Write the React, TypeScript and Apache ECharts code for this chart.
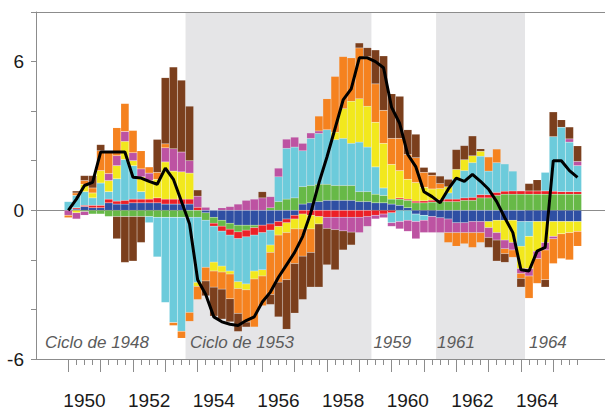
import { useEffect, useRef } from "react";
import * as echarts from "echarts";

// ---------- data (quarterly, first quarter = 1950.0, step = 1/4 year) ----------
const FIRST_QUARTER = 1950;
const QUARTERS_PER_YEAR = 4;

const blue = [
  0, 0.05, 0.15, 0.1, 0.1, 0.3, 0.25, 0.25,
  0.3, 0.3, 0.3, 0.3, 0.25, 0.25, 0.25, 0.25,
  0, -0.1, -0.28, -0.4, -0.52, -0.6, -0.6, -0.6,
  -0.6, -0.55, -0.45, -0.35, -0.2, 0.25, 0.3, 0.35,
  0.4, 0.4, 0.4, 0.4, 0.35, 0.35, 0.3, 0.3,
  0.25, 0.2, 0.1, -0.15, -0.2, -0.25, -0.3, -0.35,
  -0.5, -0.5, -0.45, -0.45, -0.45, -0.4, -0.4, -0.4,
  -0.45, -0.45, -0.45, -0.45, -0.45, -0.45, -0.45, -0.45,
];
const green = [
  0, 0, -0.05, -0.15, -0.15, -0.25, -0.25, -0.25,
  -0.25, -0.25, -0.25, -0.28, -0.28, -0.28, -0.28, -0.28,
  -0.28, -0.3, -0.24, -0.24, -0.24, -0.27, -0.2, -0.1,
  0, 0.1, 0.35, 0.45, 0.5, 0.7, 0.7, 0.7,
  0.65, 0.6, 0.6, 0.6, 0.4, 0.4, 0.35, 0.3,
  0.2, 0.25, 0.3, 0.3, 0.3, 0.33, 0.35, 0.35,
  0.35, 0.4, 0.4, 0.5, 0.5, 0.6, 0.65, 0.65,
  0.65, 0.65, 0.65, 0.65, 0.65, 0.65, 0.65, 0.65,
];
const red = [
  0, 0.05, 0.05, 0.1, 0.1, 0.15, 0.12, 0.15,
  0.15, 0.15, 0.15, 0.2, 0.2, 0.2, 0.2, 0.2,
  0.12, 0, -0.12, -0.2, -0.24, -0.27, -0.27, -0.3,
  -0.3, -0.25, -0.2, -0.15, -0.15, -0.15, -0.2, -0.25,
  -0.28, -0.28, -0.28, -0.28, -0.28, -0.25, -0.2, -0.15,
  -0.1, 0.05, 0.05, 0.07, 0.08, 0.08, 0.08, 0.1,
  0.1, 0.1, 0.12, 0.13, 0.13, 0.12, 0.12, 0.13,
  0.13, 0.13, 0.13, 0.13, 0.12, 0.1, 0.1, 0.1,
];
const cyan = [
  0.35, 0.5, 0.55, 0.3, 0.9, 0.3, 0.9, 1.65,
  1.35, 0.3, -0.25, -1.6, -3.44, -4.25, -4.6, -3.84,
  -2.63, -1.9, -1.45, -1.41, -1.45, -1.74, -1.9, -1.45,
  -1.5, -0.6, 1.0, 2.05, 2.05, 1.45, 1.9, 2.05,
  2.2, 1.85, 1.9, 1.7, 2.0, 1.8, 1.1, 0.3,
  -0.4, -0.45, -0.4, -0.3, -0.2, 0, 0, 0.25,
  0.8, 1.1, 1.4, 1.55, 0.95, 1.2, 1.1, 0.8,
  -1.0, -0.6, 0, 0.75, 2.2, 2.6, 2.0, 1.05,
];
const yellow = [
  0, -0.1, 0.3, 0.2, 0.5, 0.45, 0.53, 0.73,
  0.2, 0.6, 0.75, 0.75, 1.5, 1.13, 1.1, 1.05,
  -0.16, 0, -0.36, -0.24, -0.12, -0.28, -0.24, -0.32,
  -0.25, -0.3, -0.35, -0.4, -0.4, -0.6, -0.55, -0.3,
  0, 0.3, 1.2, 1.7, 1.75, 1.65, 1.8, 1.8,
  1.4, 1.1, 0.8, 0.75, 0.55, 0.45, 0.45, 0.25,
  0.4, 0.44, 0.28, 0.2, -0.25, -0.5, -0.8, -0.9,
  -0.9, -1.3, -1.2, -0.85, -0.6, -0.5, -0.45, -0.4,
];
const magenta = [
  -0.2, -0.25, -0.15, 0, 0, 0.28, 0.4, 0.4,
  0.32, 0.32, 0.3, 0, 0.57, 0.9, 0.8, 0.5,
  0.45, 0.12, 0, 0.1, 0.15, 0.25, 0.4, 0.45,
  0.5, 0.45, 0.35, 0.37, 0.4, 0.3, 0.22, 0.1,
  -0.45, -0.5, -0.55, -0.6, -0.62, -0.4, -0.15, -0.15,
  -0.15, -0.3, -0.45, -0.7, -0.5, -0.65, -0.6, -0.55,
  -0.4, -0.4, -0.45, -0.45, -0.4, -0.3, -0.35, -0.3,
  -0.2, -0.3, -0.3, -0.3, -0.1, 0, 0.13, 0.17,
];
const orange = [
  -0.1, 0.1, 0.15, 0.2, 0.8, 0.85, 1.13, 1.13,
  0.9, 0.73, 0.25, 0.28, 0.16, -0.12, -0.28, -0.36,
  -0.53, -0.55, -0.65, -0.69, -1.0, -1.0, -1.3, -1.94,
  -1.2, -1.7, -1.9, -1.9, -1.4, -1.1, -0.95, 0.6,
  1.25, 2.25, 2.1, 1.75, 2.05, 2.0, 1.55, 1.33,
  1.05, 1.3, 1.0, 1.0, 0.6, 0.55, 0.2, -0.4,
  -0.55, -0.45, -0.6, -0.4, 0.57, 0.55, -0.2, -0.3,
  -0.2, -0.9, -1.0, -1.2, -1.0, -1.0, -1.1, -0.6,
];
const brown = [
  0, 0.08, 0.2, 0.5, 0.25, 0, -0.9, -1.85,
  -1.8, -1.05, 0, 1.33, 2.67, 3.3, 2.9, 2.2,
  0.25, -0.6, -1.17, -1.21, -0.93, -0.73, -0.2, 0,
  0.25, -0.4, -1.4, -2.0, -2.0, -1.75, -1.4, -2.55,
  -1.47, -1.62, -0.77, -0.52, 0.2, 0.36, 1.37, 2.2,
  1.8, 1.7, 1.0, 0.95, 0.2, 0.12, 0.3, 0.3,
  0.8, 0.57, 0.8, 0.1, -0.4, -0.85, -0.35, 0,
  -0.35, 0.3, 0.45, -0.3, 1.0, 0.3, 0.48, 0.63,
];
const indicator = [
  0, 0.45, 1.0, 1.13, 2.35, 2.35, 2.35, 2.35,
  1.33, 1.3, 1.17, 1.05, 1.7, 1.25, 0.35, -0.55,
  -2.8, -3.4, -4.3, -4.5, -4.6, -4.65, -4.45, -4.3,
  -3.7, -3.3, -2.7, -2.2, -1.7, -1.05, -0.1, 1.1,
  2.15, 3.3, 4.45, 4.9, 6.15, 6.15, 6.0, 5.75,
  4.15, 3.5, 2.25, 1.75, 0.75, 0.55, 0.3, 0.85,
  1.3, 1.17, 1.45, 1.17, 0.85, 0.35, -0.3, -0.9,
  -2.4, -2.45, -1.65, -1.5, 2.0, 2.0, 1.6, 1.33,
];

const majorTickYears = [1950, 1951, 1952, 1953, 1954, 1955, 1956, 1957, 1958, 1959, 1960, 1961, 1962, 1963, 1964, 1965];
const yearLabels = [1950, 1952, 1954, 1956, 1958, 1960, 1962, 1964];
const yLabelValues = [-6, 0, 6];

const cycleNames = ["Ciclo de 1948", "Ciclo de 1953", "1959", "1961", "1964"];
const cycleStarts = [1949, 1953.625, 1959.375, 1961.375, 1964.125];
const cycleEnds = [1953.625, 1959.375, 1961.375, 1964.125, 1966.6];
const cycleShaded = [false, true, false, true, false];

// ---------- styling ----------
const X_MIN = 1949;
const X_MAX = 1966.6;
const FONT = "'Liberation Sans', Arial, sans-serif";
const AXIS_GRAY = "#8c8c8c";
const labelShiftX = [9, 4.5, 2, 1, 4];

const stackDefs = [
  { name: "azul", values: blue, color: "#2f4fa3" },
  { name: "verde", values: green, color: "#67b947" },
  { name: "rojo", values: red, color: "#ec2027" },
  { name: "celeste", values: cyan, color: "#6ccbdb" },
  { name: "amarillo", values: yellow, color: "#f2e81d" },
  { name: "morado", values: magenta, color: "#bd53a2" },
  { name: "naranja", values: orange, color: "#f5821f" },
  { name: "marron", values: brown, color: "#7b3f1d" },
];

export default function App() {
  const ref = useRef<HTMLDivElement>(null);

  useEffect(() => {
    if (!ref.current) return;
    const chart = echarts.init(ref.current, undefined, { renderer: "svg" });
    const quarters = blue.map((_, i) => FIRST_QUARTER + i / QUARTERS_PER_YEAR);
    const quarterTicks = quarters.slice();

    const barSeries = stackDefs.map((s) => ({
      type: "bar",
      name: s.name,
      stack: "total",
      barWidth: 8.1,
      encode: { x: 1, y: 0 },
      data: s.values.map((v, i) => [v, quarters[i]]),
      itemStyle: { color: s.color, borderColor: "rgba(255,255,255,0.18)", borderWidth: 0.4 },
      silent: true,
      z: 2,
    }));

    const areaData = cycleNames.map((name, i) => [
      {
        name,
        xAxis: cycleStarts[i],
        itemStyle: { color: cycleShaded[i] ? "#e5e5e7" : "rgba(0,0,0,0)" },
        label: { offset: [labelShiftX[i], -8] },
      },
      { xAxis: cycleEnds[i] },
    ]);

    const splitColors = ["rgba(0,0,0,0)", "rgba(0,0,0,0)", "rgba(0,0,0,0)", AXIS_GRAY, "rgba(0,0,0,0)", "rgba(0,0,0,0)", "rgba(0,0,0,0)", "rgba(0,0,0,0)"];

    chart.setOption({
      animation: false,
      backgroundColor: "#ffffff",
      grid: { left: 36, right: 0, top: 12, bottom: 52, containLabel: false, outerBoundsMode: "none" },
      xAxis: [
        {
          type: "value",
          min: X_MIN,
          max: X_MAX,
          position: "bottom",
          z: 5,
          axisLine: { show: true, onZero: false, lineStyle: { color: AXIS_GRAY, width: 1 } },
          axisTick: { show: true, length: 13, customValues: majorTickYears, lineStyle: { color: AXIS_GRAY, width: 1 } },
          axisLabel: {
            show: true,
            customValues: yearLabels.map((y) => y + 0.5),
            formatter: (v: number) => String(Math.floor(v)),
            fontSize: 19,
            fontFamily: FONT,
            color: "#1a1a1a",
            margin: 32,
          },
          splitLine: { show: false },
        },
        {
          type: "value",
          min: X_MIN,
          max: X_MAX,
          position: "bottom",
          z: 5,
          axisLine: { show: false, onZero: false },
          axisTick: { show: true, length: 6, customValues: quarterTicks, lineStyle: { color: AXIS_GRAY, width: 1 } },
          axisLabel: { show: false },
          splitLine: { show: false },
        },
        {
          type: "value",
          min: X_MIN,
          max: X_MAX,
          position: "top",
          z: 5,
          axisLine: { show: true, onZero: false, lineStyle: { color: AXIS_GRAY, width: 1 } },
          axisTick: { show: false },
          axisLabel: { show: false },
          splitLine: { show: false },
        },
      ],
      yAxis: {
        type: "value",
        min: -6,
        max: 8,
        interval: 2,
        axisLine: { show: true, onZero: false, lineStyle: { color: AXIS_GRAY, width: 1 } },
        axisTick: { show: true, length: 5, lineStyle: { color: AXIS_GRAY, width: 1 } },
        axisLabel: {
          formatter: (v: number) => (yLabelValues.includes(v) ? String(v) : ""),
          fontSize: 19,
          fontFamily: FONT,
          color: "#1a1a1a",
          margin: 12,
        },
        splitLine: { show: true, lineStyle: { color: splitColors, width: 1 } },
      },
      series: [
        {
          type: "line",
          name: "ciclos",
          data: [],
          silent: true,
          z: 1,
          markArea: {
            silent: true,
            label: {
              show: true,
              position: "insideBottomLeft",
              distance: 0,
              fontSize: 17,
              lineHeight: 17,
              fontStyle: "italic",
              fontFamily: FONT,
              color: "#5b5b5b",
            },
            data: areaData,
          },
        },
        ...barSeries,
        {
          type: "line",
          name: "indicador",
          data: indicator.map((v, i) => [quarters[i], v]),
          symbol: "none",
          lineStyle: { color: "#000000", width: 3 },
          silent: true,
          z: 10,
        },
      ],
    });

    return () => chart.dispose();
  }, []);

  return (
    <div
      ref={ref}
      style={{ position: "fixed", left: 0, top: 0, width: 605, height: 411 }}
    />
  );
}
